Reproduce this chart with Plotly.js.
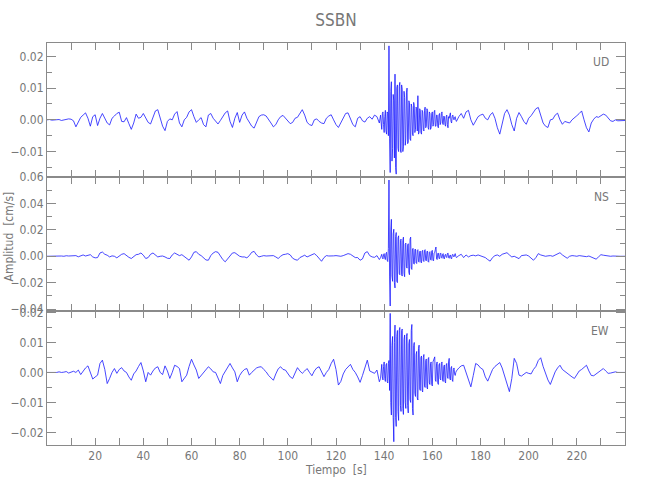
<!DOCTYPE html>
<html><head><meta charset="utf-8">
<script src="https://cdn.plot.ly/plotly-3.0.1.min.js"></script>
<style>html,body{margin:0;padding:0;background:#fff}</style>
</head><body><div id="chart" style="width:650px;height:500px"></div>
<script>
// Amplitudes in units of 1e-4 cm/s.
// Pre-event: t = 0..138 s every 1 s
const ud_pre = [0,1,-1,0,2,1,-2,0,1,3, 2,-3,-22,-5,8,15,22,5,-20,10, 16,-18,5,20,5,-10,-16,5,12,20, 24,-5,-6,7,-12,-30,-10,18,5,8,
 20,5,-8,-13,10,28,32,5,-20,-34, -5,3,0,18,26,-10,-22,0,8,25, 32,10,-8,0,7,-15,-22,15,20,5, -5,-13,-2,10,22,28,-5,-24,5,23,
 -8,15,25,5,-10,-20,-26,-5,10,15, 16,12,2,-10,-22,-15,0,10,14,5, -5,-12,-8,5,8,20,32,15,-8,-15, -18,0,3,-5,-10,-12,5,12,16,0,
 -15,-24,-10,8,20,22,5,-15,-22,5, 10,-3,-7,5,10,2,15,10,-10];
const ns_pre = [0,1,0,2,1,3,2,0,4,2, 3,0,5,-4,6,10,2,8,12,-5, -12,-10,25,32,15,8,-5,3,0,-12, 5,15,20,5,-8,-17,0,12,15,25,
 8,-17,-10,15,25,12,-5,0,2,-5, -15,-17,10,25,15,5,12,0,-15,-30, -5,30,35,15,5,-15,-28,-30,5,25, 35,30,0,-25,-42,-20,10,25,27,10,
 0,-5,-5,-12,5,30,37,10,-5,0, 5,2,3,0,5,-5,-17,0,12,15, 20,10,-15,-25,-30,-10,0,8,-5,5, 15,20,5,-20,-38,-10,5,2,0,3,
 5,3,0,5,10,20,15,0,-10,-10, -30,-20,25,35,5,-5,-8,5,-25];
const ew_pre = [0,0,1,-1,0,2,0,1,3,-2, 2,4,0,8,-7,5,15,22,0,-22, -15,-9,30,41,10,-37,-20,0,13,-3, 10,16,5,0,-15,-26,-5,5,20,33,
 5,-31,0,-9,5,15,19,0,-7,22, 5,-20,0,24,20,13,-31,-20,-9,20, 44,25,8,-20,-10,-3,10,19,12,2, 0,-20,-37,-10,4,20,30,15,2,-31,
 -10,2,10,13,-9,0,8,15,18,19, 10,2,-10,-20,-26,-5,12,19,10,8, -5,-15,-20,0,16,5,-3,5,13,0, -11,5,15,19,0,-14,0,10,30,44,
 10,-42,-30,-5,10,20,27,10,0,-15, -33,-10,20,41,5,0,-3,8,-31];
// Strong motion: t = 138.5..170 s every 0.25 s
const ud_burst = [15,-10,-30,20,25,-15,-40,10, 30,-35,-45,25,20,-50,233,-60, -166,90,120,-130,-90,80,60,-120,
 144,-150,-171,100,110,-90,-100,105, 118,-95,-103,110,95,-100,-85,90, 70,-80,-60,85,100,-75,-70,60,
 55,-60,-65,50,40,-45,-50,55, 45,-40,-30,40,35,-35,76,-45, -40,35,30,-40,-45,30,25,-30,
 -35,30,40,-25,-20,35,30,-25, -30,25,20,-30,-25,20,25,-20, -15,25,30,-20,-20,15,15,-20,
 -25,15,20,-15,-10,20,25,-10, -15,12,10,-15,-20,10,15,-15, -25,10,5,15,22,-5,-10,10, 15,5,0,8,10,0,-5];
const ns_burst = [-10,5,15,-10,-20,10,20,-15, -25,20,30,-30,-40,60,578,-150, -377,200,280,-150,-190,170,205,-200,
 -240,150,180,-190,-200,140,155,-130, -140,120,130,-140,-150,120,145,-130, -155,90,100,-80,-90,85,95,-120,
 -140,130,145,-90,-100,55,60,-55, -60,50,55,-50,-55,45,50,-40, -45,35,40,-45,-50,40,45,-35,
 -40,45,50,-30,-35,35,40,-40, -45,30,35,-25,-30,40,45,-30, -35,25,30,50,70,-20,-25,20,
 25,-15,-20,20,25,-10,-15,15, 20,-15,-20,10,15,-5,-10,20, 25,-10,-15,5,10,-15,-20,10, 15,0,-5,10,20,0,-10];
const ew_burst = [-20,10,27,-15,-25,20,35,-20, -30,25,30,-30,-35,30,40,-60, 197,-100,-142,90,120,-150,-231,100,
 158,-150,-180,120,140,-130,-160,140, 150,-110,-130,140,145,-120,-140,110, 125,-100,-120,120,130,-110,-135,95,
 110,-90,-100,140,160,-120,-142,90, 100,-70,-80,60,70,-85,-92,80, 91,-55,-60,50,55,-60,-65,50,
 60,-45,-50,40,45,-50,-55,45, 50,-35,-40,30,35,-40,-45,35, 40,45,52,-25,-30,30,35,-35,
 -40,25,30,-20,-25,30,35,-25, -30,20,25,-30,-35,25,30,-15, -20,35,47,-20,-25,15,20,-25, -30,10,15,-5,-10,0,5];
// Coda: t = 171..240 s every 1 s
const ud_post = [10,20,5,25,30,0,-17,-5,10,15, 18,5,0,15,23,5,-25,-45,-10,20, 32,15,-15,-35,5,23,10,-5,-14,5,
 13,25,35,39,10,-10,-20,-24,0,2, 15,21,0,-14,-5,-8,-10,0,8,13, 20,28,0,-25,-38,-10,2,10,8,12, 18,15,5,-3,-5,0,-3,-2,-3,-2];
const ns_post = [5,15,-10,10,-5,5,8,3,10,5, 0,-10,-25,-37,-10,5,10,0,15,20, 27,10,-5,0,-12,-18,5,8,10,2,
 -15,-30,-10,20,10,5,0,3,5,0, 10,18,27,10,-5,-15,0,5,3,0, 5,2,0,-3,2,-5,-15,-22,-5,12, 8,5,3,0,2,0,1,0,0,0];
const ew_post = [15,22,24,0,-30,-48,-10,30,25,15, 10,-15,-29,-10,10,20,28,33,15,-10, -35,-64,-20,47,30,-9,-12,-5,0,-3,
 -5,10,20,40,49,20,-5,-25,-40,-20, 2,15,24,10,3,-3,-8,-15,-20,-5, 5,10,18,24,5,-10,-11,-5,3,8, 13,5,-3,-2,0,2,0,0,0,0];

const components = ['UD','NS','EW'];
const xTicks = [20,40,60,80,100,120,140,160,180,200,220];

// sampling of each segment
const PRE_T0 = 0, PRE_DT = 1, BURST_T0 = 138.5, BURST_DT = 0.25, POST_T0 = 171, POST_DT = 1;
function times(n, t0, dt){ const a=[]; for(let i=0;i<n;i++) a.push(t0+i*dt); return a; }
function build(pre, burst, post){
  const t = times(pre.length,PRE_T0,PRE_DT).concat(times(burst.length,BURST_T0,BURST_DT), times(post.length,POST_T0,POST_DT));
  const y = pre.concat(burst, post).map(v => v*1e-4);
  return {t, y};
}
const series = [build(ud_pre,ud_burst,ud_post), build(ns_pre,ns_burst,ns_post), build(ew_pre,ew_burst,ew_post)];

const FONT = '"Liberation Sans Narrow","DejaVu Sans Condensed","Liberation Sans",sans-serif';
const GRAY = '#777';
const LINE = '#8a8a8a';
const traces = series.map((s,i) => ({
  x: s.t, y: s.y, type:'scatter', mode:'lines',
  xaxis: i===0?'x':'x'+(i+1), yaxis: i===0?'y':'y'+(i+1),
  line:{color:'rgb(25,25,255)', width:0.8}, hoverinfo:'skip', showlegend:false
}));

function xax(anchor, labels){
  return {anchor, range:[0,240], showline:true, linecolor:LINE, linewidth:1, mirror:'ticks',
    ticks:'inside', ticklen:7, tickcolor:LINE, tickvals:xTicks, showticklabels:labels,
    minor:{dtick:10, tick0:0, ticks:'inside', ticklen:7, tickcolor:LINE},
    showgrid:false, zeroline:false, tickfont:{family:FONT, size:12, color:GRAY}};
}
function yax(domain, range, dtick, mdtick){
  return {domain, range, showline:true, linecolor:LINE, linewidth:1, mirror:'ticks',
    ticks:'inside', ticklen:9, tickcolor:LINE, dtick, tick0:0, tickformat:'.2f',
    minor:{dtick:mdtick, tick0:0, ticks:'inside', ticklen:5, tickcolor:LINE},
    showgrid:false, zeroline:false, tickfont:{family:FONT, size:12, color:GRAY}};
}
const layout = {
  width:650, height:500, margin:{l:47, r:25, t:43, b:55},
  paper_bgcolor:'#fff', plot_bgcolor:'#fff',
  title:{text:'SSBN', font:{family:FONT, size:17, color:GRAY}, x:0.5, xref:'paper', y:0.96, yref:'container', yanchor:'middle'},
  xaxis: xax('y', false), xaxis2: xax('y2', false), xaxis3: xax('y3', true),
  yaxis: yax([2/3,1], [-0.018,0.0242], 0.01, 0.005),
  yaxis2: yax([1/3,2/3], [-0.0415,0.0601], 0.02, 0.01),
  yaxis3: yax([0,1/3], [-0.0242,0.0205], 0.01, 0.005),
  annotations: [
    {text:components[0], xref:'paper', yref:'paper', x:0.975, y:0.953, xanchor:'right', yanchor:'middle', showarrow:false, font:{family:FONT,size:12,color:GRAY}},
    {text:components[1], xref:'paper', yref:'paper', x:0.975, y:0.617, xanchor:'right', yanchor:'middle', showarrow:false, font:{family:FONT,size:12,color:GRAY}},
    {text:components[2], xref:'paper', yref:'paper', x:0.975, y:0.284, xanchor:'right', yanchor:'middle', showarrow:false, font:{family:FONT,size:12,color:GRAY}},
    {text:'Amplitud  [cm/s]', xref:'paper', yref:'paper', x:-0.065, y:0.52, textangle:-90, xanchor:'center', yanchor:'middle', showarrow:false, font:{family:FONT,size:12,color:GRAY}},
    {text:'Tiempo  [s]', xref:'paper', yref:'paper', x:0.5, y:-0.062, xanchor:'center', yanchor:'middle', showarrow:false, font:{family:FONT,size:12,color:GRAY}}
  ]
};
Plotly.newPlot('chart', traces, layout, {staticPlot:true, displayModeBar:false});
</script></body></html>
